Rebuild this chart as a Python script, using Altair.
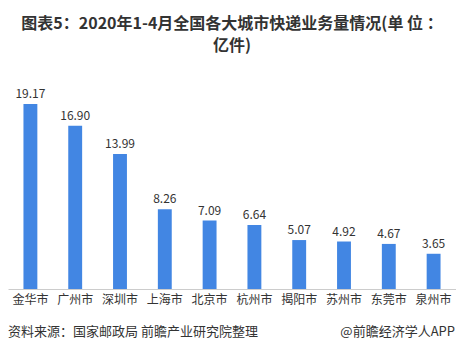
import altair as alt
import pandas as pd

cities = ["金华市", "广州市", "深圳市", "上海市", "北京市", "杭州市", "揭阳市", "苏州市", "东莞市", "泉州市"]
values = [19.17, 16.90, 13.99, 8.26, 7.09, 6.64, 5.07, 4.92, 4.67, 3.65]
labels = ["19.17", "16.90", "13.99", "8.26", "7.09", "6.64", "5.07", "4.92", "4.67", "3.65"]
title_lines = ["图表5：2020年1-4月全国各大城市快递业务量情况(单 位 ：", "亿件)"]
source_left = "资料来源：国家邮政局 前瞻产业研究院整理"
source_right = "@前瞻经济学人APP"

df = pd.DataFrame({"city": cities, "value": values, "label": labels})
FONT = "Noto Sans CJK SC"

x = alt.X("city:N", sort=cities, title=None,
          scale=alt.Scale(paddingInner=0.69, paddingOuter=0.345),
          axis=alt.Axis(labelAngle=0, ticks=False, domainColor="#cccccc", labelColor="#333333",
                        labelFontSize=12, labelFont=FONT, labelPadding=5))
y = alt.Y("value:Q", title=None, scale=alt.Scale(domain=[0, 20.72], nice=False), axis=None)

bars = alt.Chart(df).mark_bar(color="#4286E3").encode(x=x, y=y)
text = alt.Chart(df).mark_text(dy=-10, fontSize=12, color="#333333", font=FONT).encode(
    x=alt.X("city:N", sort=cities), y="value:Q", text="label:N")

foot_df = pd.DataFrame({"t": [source_left]})
foot_l = alt.Chart(foot_df).mark_text(align="left", baseline="middle", fontSize=13, color="#333333", font=FONT).encode(
    x=alt.value(0), y=alt.value(243), text="t:N")
foot_df2 = pd.DataFrame({"t": [source_right]})
foot_r = alt.Chart(foot_df2).mark_text(align="right", baseline="middle", fontSize=13, color="#333333", font=FONT).encode(
    x=alt.value(447), y=alt.value(243), text="t:N")

chart = alt.layer(bars, text, foot_l, foot_r).properties(
    width=448, height=200,
    autosize=alt.AutoSizeParams(type="none"),
    padding={"left": 0, "top": 81, "right": 0, "bottom": 61},
    title=alt.TitleParams(title_lines, anchor="middle", fontSize=16, fontWeight="bold",
                          color="#333333", font=FONT, offset=34, lineHeight=22),
).configure_view(stroke=None)

chart.save("out.html", embed_options={"renderer": "svg", "actions": False})
